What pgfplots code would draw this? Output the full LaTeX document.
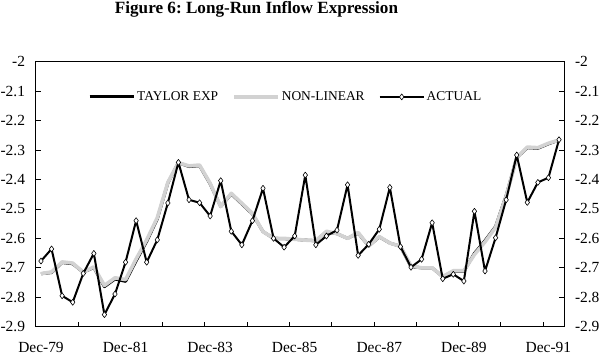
\documentclass[border=0pt]{standalone}
\usepackage{fontspec}
\setmainfont{Liberation Serif}
\usepackage{pgfplots}
\pgfplotsset{compat=1.18}
\usepackage{pgfplotstable}
\definecolor{nlgray}{RGB}{210,210,210}
\frenchspacing

\pgfplotstableread{
x actual nonlin taylor
0 -2.677 -2.720 -2.720
1 -2.636 -2.714 -2.716
2 -2.795 -2.680 -2.682
3 -2.817 -2.684 -2.686
4 -2.719 -2.715 -2.715
5 -2.651 -2.697 -2.699
6 -2.859 -2.760 -2.764
7 -2.789 -2.734 -2.738
8 -2.681 -2.740 -2.746
9 -2.540 -2.670 -2.676
10 -2.681 -2.605 -2.610
11 -2.605 -2.530 -2.534
12 -2.480 -2.410 -2.412
13 -2.342 -2.343 -2.343
14 -2.469 -2.354 -2.356
15 -2.479 -2.351 -2.353
16 -2.524 -2.413 -2.415
17 -2.404 -2.492 -2.492
18 -2.576 -2.447 -2.449
19 -2.622 -2.481 -2.483
20 -2.540 -2.515 -2.517
21 -2.430 -2.577 -2.577
22 -2.600 -2.600 -2.600
23 -2.630 -2.600 -2.601
24 -2.592 -2.603 -2.603
25 -2.385 -2.606 -2.606
26 -2.622 -2.608 -2.608
27 -2.592 -2.576 -2.578
28 -2.572 -2.584 -2.584
29 -2.418 -2.600 -2.600
30 -2.658 -2.580 -2.582
31 -2.620 -2.626 -2.626
32 -2.569 -2.594 -2.595
33 -2.427 -2.616 -2.616
34 -2.628 -2.627 -2.627
35 -2.698 -2.694 -2.696
36 -2.671 -2.700 -2.700
37 -2.547 -2.700 -2.700
38 -2.737 -2.730 -2.730
39 -2.722 -2.710 -2.712
40 -2.745 -2.710 -2.712
41 -2.508 -2.655 -2.651
42 -2.711 -2.612 -2.608
43 -2.598 -2.563 -2.560
44 -2.469 -2.457 -2.455
45 -2.317 -2.326 -2.326
46 -2.478 -2.290 -2.292
47 -2.410 -2.292 -2.294
48 -2.394 -2.277 -2.279
49 -2.265 -2.266 -2.266
}\data

\begin{document}
\begin{tikzpicture}
\path[use as bounding box] (-35.7bp,-28.3bp) rectangle (564.3bp,326.7bp);
\begin{axis}[
  at={(0,0)}, anchor=south west, scale only axis,
  width=528.6bp, height=265bp,
  xmin=-0.5, xmax=49.5, ymin=-2.9, ymax=-2,
  axis line style={black, line width=0.8bp},
  tick style={black, line width=0.8bp},
  tick align=inside,
  major tick length=5bp,
  xtick pos=bottom, ytick pos=left,
  xtick={3.5,7.5,11.5,15.5,19.5,23.5,27.5,31.5,35.5,39.5,43.5,47.5},
  xticklabels={},
  extra x ticks={0,8,16,24,32,40,48},
  extra x tick labels={Dec-79,Dec-81,Dec-83,Dec-85,Dec-87,Dec-89,Dec-91},
  extra x tick style={major tick length=0pt},
  xticklabel style={anchor=base, inner sep=0pt, yshift=-25.8bp, font=\fontsize{15.5}{18}\selectfont},
  ytick={-2.9,-2.8,-2.7,-2.6,-2.5,-2.4,-2.3,-2.2,-2.1,-2},
  yticklabels={-2.9,-2.8,-2.7,-2.6,-2.5,-2.4,-2.3,-2.2,-2.1,-2},
  yticklabel style={anchor=east, inner sep=0pt, xshift=-10.5bp, font=\fontsize{15.5}{18}\selectfont},
  legend style={at={(0.473,0.867)}, anchor=center, draw=none, fill=none,
    font=\fontsize{13.5}{16}\selectfont,
    /tikz/every even column/.append style={column sep=12bp}},
  legend columns=3,
  legend image code/.code={\draw[mark repeat=2,mark phase=2,#1] plot coordinates {(0bp,0bp)(22bp,0bp)(44bp,0bp)};},
  clip=false,
]
\addplot[black, line width=3bp, line join=round] table[x=x,y=taylor]{\data};
\addlegendentry{TAYLOR EXP}
\addplot[nlgray, line width=3.6bp, line join=round] table[x=x,y=nonlin]{\data};
\addlegendentry{NON-LINEAR}
\addplot[black, line width=2bp, line join=round, mark=diamond*, mark size=3bp,
  mark options={fill=white, draw=black, line width=0.6bp, solid}] table[x=x,y=actual]{\data};
\addlegendentry{ACTUAL}
\end{axis}
\begin{axis}[
  at={(0,0)}, anchor=south west, scale only axis,
  width=528.6bp, height=265bp,
  xmin=0, xmax=1, ymin=-2.9, ymax=-2,
  hide x axis, axis y line*=right,
  axis line style={black, line width=0.8bp},
  tick style={black, line width=0.8bp},
  tick align=inside, major tick length=5bp,
  ytick={-2.9,-2.8,-2.7,-2.6,-2.5,-2.4,-2.3,-2.2,-2.1,-2},
  yticklabels={-2.9,-2.8,-2.7,-2.6,-2.5,-2.4,-2.3,-2.2,-2.1,-2},
  yticklabel style={anchor=west, inner sep=0pt, xshift=10.5bp, font=\fontsize{15.5}{18}\selectfont},
]
\addplot[draw=none] coordinates {(0.5,-2.5)};
\end{axis}
\node[anchor=base, font=\bfseries\fontsize{17.2}{20}\selectfont] at (220.8bp,313.4bp) {Figure 6: Long-Run Inflow Expression};
\end{tikzpicture}
\end{document}
